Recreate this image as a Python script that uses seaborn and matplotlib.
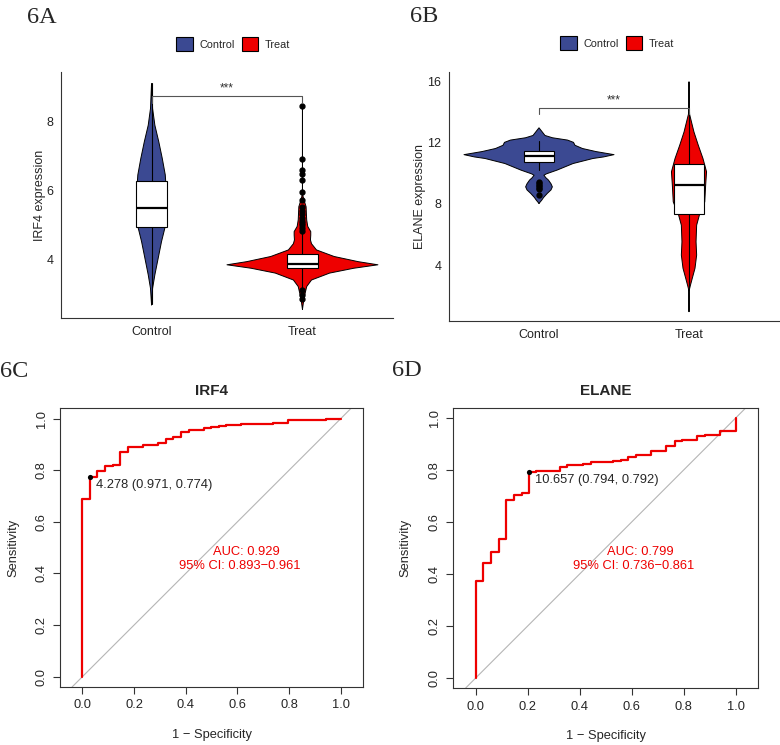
import matplotlib
matplotlib.use("Agg")
import matplotlib.pyplot as plt
from matplotlib.patches import Patch
import seaborn as sns
import numpy as np
import pandas as pd

# ---- colours (ggsci AAAS) ----
blue = "#3B4992"
red = "#EE0000"
groups = ["Control", "Treat"]

# ---- 6A: IRF4 violins (value levels, half widths in category units) ----
irf4_ctrl_y = [2.68, 3.16, 3.55, 4.03, 4.51, 4.90, 5.3, 5.7, 6.1, 6.44, 6.92, 7.40, 7.88, 8.36, 9.09]
irf4_ctrl_w = [0.0, 0.007, 0.022, 0.044, 0.066, 0.088, 0.096, 0.098, 0.096, 0.091, 0.071, 0.048, 0.022, 0.007, 0.0]
irf4_treat_y = [2.55, 2.77, 3.02, 3.21, 3.40, 3.60, 3.74, 3.84, 3.93, 4.08, 4.27, 4.45, 4.56, 4.70, 4.80,
                4.95, 5.14, 5.52, 5.76, 5.9, 8.46]
irf4_treat_w = [0.0, 0.007, 0.018, 0.028, 0.06, 0.18, 0.34, 0.5, 0.37, 0.21, 0.093, 0.06, 0.053, 0.055, 0.055,
                0.035, 0.028, 0.024, 0.007, 0.0, 0.0]
# box stats: q1, median, q3, whisker low, whisker high
irf4_ctrl_box = [4.92, 5.49, 6.26, 2.70, 9.09]
irf4_treat_box = [3.75, 3.86, 4.15, 3.15, 4.75]
irf4_treat_out = [8.45, 6.90, 6.58, 6.46, 6.29, 5.95, 5.71, 5.50, 5.40, 5.30, 5.20, 5.12, 5.05,
                  4.98, 4.90, 4.83, 3.11, 2.97, 2.85]
irf4_ctrl_out = []

# ---- 6B: ELANE violins ----
elane_ctrl_y = [8.02, 8.23, 8.4, 8.67, 8.9, 9.10, 9.3, 9.54, 9.7, 9.86, 9.95, 10.19, 10.62, 10.95, 11.05,
                11.2, 11.4, 11.6, 11.81, 12.0, 12.15, 12.3, 12.45, 12.7, 12.95]
elane_ctrl_w = [0.0, 0.018, 0.03, 0.055, 0.08, 0.089, 0.08, 0.063, 0.045, 0.033, 0.05, 0.12, 0.227, 0.36, 0.43,
                0.5, 0.38, 0.29, 0.24, 0.23, 0.19, 0.09, 0.04, 0.02, 0.0]
elane_treat_y = [0.96, 2.3, 2.59, 3.14, 3.79, 4.65, 5.52, 6.60, 7.25, 8.12, 9.21, 10.08, 10.95, 11.81,
                 12.68, 13.55, 13.98, 15.94]
elane_treat_w = [0.0, 0.0, 0.007, 0.022, 0.04, 0.051, 0.047, 0.051, 0.069, 0.105, 0.111, 0.117, 0.093,
                 0.062, 0.033, 0.011, 0.0, 0.0]
elane_ctrl_box = [10.73, 11.12, 11.44, 10.2, 12.09]
elane_treat_box = [7.32, 9.21, 10.56, 2.5, 13.98]
elane_ctrl_out = [9.43, 9.33, 9.23, 9.13, 9.03, 8.93, 8.56]
elane_treat_out = []

# ---- 6C / 6D: ROC step curves (1 - specificity, sensitivity) ----
irf4_fpr = [0, 0, 0.031, 0.058, 0.088, 0.119, 0.147, 0.177, 0.235, 0.294, 0.323, 0.352, 0.383, 0.412,
            0.470, 0.498, 0.528, 0.557, 0.615, 0.738, 0.796, 0.942, 1.0]
irf4_tpr = [0, 0.687, 0.774, 0.798, 0.815, 0.819, 0.872, 0.891, 0.899, 0.904, 0.922, 0.928, 0.948, 0.955,
            0.962, 0.968, 0.973, 0.975, 0.979, 0.983, 0.994, 1.0, 1.0]
elane_fpr = [0, 0, 0.028, 0.058, 0.088, 0.118, 0.147, 0.177, 0.206, 0.233, 0.323, 0.353, 0.413, 0.442,
             0.528, 0.558, 0.586, 0.615, 0.676, 0.733, 0.765, 0.795, 0.853, 0.881, 0.941, 1.0]
elane_tpr = [0, 0.372, 0.442, 0.483, 0.536, 0.686, 0.705, 0.710, 0.792, 0.797, 0.812, 0.821, 0.824, 0.829,
             0.833, 0.840, 0.851, 0.856, 0.872, 0.891, 0.913, 0.917, 0.929, 0.935, 0.949, 1.0]
irf4_best = (1 - 0.971, 0.774, "4.278 (0.971, 0.774)")
elane_best = (1 - 0.794, 0.792, "10.657 (0.794, 0.792)")
irf4_auc = ["AUC: 0.929", "95% CI: 0.893\u22120.961"]
elane_auc = ["AUC: 0.799", "95% CI: 0.736\u22120.861"]

sns.set_style("white")
plt.rcParams["font.family"] = ["Liberation Sans", "DejaVu Sans"]
plt.rcParams["path.simplify"] = False  # keep the zero-width violin tails

W, H = 780, 745
fig = plt.figure(figsize=(W / 100, H / 100), dpi=100)


def px_axes(left, top, right, bottom):
    return fig.add_axes([left / W, 1 - bottom / H, (right - left) / W, (bottom - top) / H])


def draw_violin(ax, pos, ys, ws, color):
    ys = np.array(ys)
    ws = np.array(ws)
    ax.fill_betweenx(ys, pos - ws, pos + ws, facecolor=color, edgecolor="none", zorder=2)
    # outline drawn as a line so the thin tails show up
    ox = np.concatenate([pos - ws, (pos + ws)[::-1]])
    oy = np.concatenate([ys, ys[::-1]])
    ax.plot(ox, oy, color="black", lw=0.7, zorder=2.1)


def draw_box(ax, pos, b, fliers):
    st = dict(q1=b[0], med=b[1], q3=b[2], whislo=b[3], whishi=b[4], fliers=fliers)
    ax.bxp([st], positions=[pos], widths=0.2, patch_artist=True, showcaps=False,
           boxprops=dict(facecolor="white", edgecolor="black", linewidth=0.8),
           medianprops=dict(color="black", linewidth=1.6),
           whiskerprops=dict(color="black", linewidth=0.8),
           flierprops=dict(marker="o", markerfacecolor="black", markeredgecolor="black",
                           markersize=3.5),
           manage_ticks=False, zorder=3)


def violin_panel(ax, parts, ylim, yticks, ylabel, bracket_y, tip, legend_xy, tag, tag_xy):
    for i, (ys, ws, box, out, col) in enumerate(parts):
        draw_violin(ax, i + 1, ys, ws, col)
        draw_box(ax, i + 1, box, out)
    ax.plot([1, 1, 2, 2], [bracket_y - tip, bracket_y, bracket_y, bracket_y - tip],
            color="#555555", lw=0.8, zorder=4)
    ax.annotate("***", (1.5, bracket_y), xytext=(0, 1), textcoords="offset points",
                ha="center", va="bottom", fontsize=8.5, color="#333333")
    ax.set_xlim(0.4, 2.6)
    ax.set_ylim(*ylim)
    ax.set_xticks([1, 2])
    ax.set_xticklabels(groups, fontsize=9, color="#222222")
    ax.set_yticks(yticks)
    ax.set_yticklabels([str(t) for t in yticks], fontsize=9, color="#222222")
    ax.tick_params(length=2.5, width=0.7, color="#333333", pad=3)
    for s in ["top", "right"]:
        ax.spines[s].set_visible(False)
    for s in ["left", "bottom"]:
        ax.spines[s].set_color("#333333")
        ax.spines[s].set_linewidth(0.8)
    ax.set_ylabel(ylabel, fontsize=9, va="center")
    handles = [Patch(facecolor=blue, edgecolor="black", lw=0.8, label="Control"),
               Patch(facecolor=red, edgecolor="black", lw=0.8, label="Treat")]
    fig.legend(handles=handles, loc="center", bbox_to_anchor=legend_xy, ncol=2, frameon=False,
               fontsize=7.8, handlelength=1.55, handleheight=1.55, handletextpad=0.55,
               columnspacing=0.65, borderpad=0)
    fig.text(tag_xy[0] / W, 1 - tag_xy[1] / H, tag, family="Liberation Serif", fontsize=17.5,
             va="baseline", ha="left")


axA = px_axes(61, 72, 393, 318)
violin_panel(axA,
             [(irf4_ctrl_y, irf4_ctrl_w, irf4_ctrl_box, irf4_ctrl_out, blue),
              (irf4_treat_y, irf4_treat_w, irf4_treat_box, irf4_treat_out, red)],
             (2.30, 9.42), [4, 6, 8], "IRF4 expression", 8.73, 0.2,
             (233 / W, 1 - 44 / H), "6A", (27, 23))
axA.yaxis.set_label_coords(-(61 - 40) / 332, 0.5)

axB = px_axes(449, 72, 779, 321)
violin_panel(axB,
             [(elane_ctrl_y, elane_ctrl_w, elane_ctrl_box, elane_ctrl_out, blue),
              (elane_treat_y, elane_treat_w, elane_treat_box, elane_treat_out, red)],
             (0.35, 16.59), [4, 8, 12, 16], "ELANE expression", 14.27, 0.4,
             (617 / W, 1 - 43 / H), "6B", (410, 22))
axB.yaxis.set_label_coords(-(449 - 420) / 330, 0.5)


def roc_panel(ax, fpr, tpr, best, auc, title, xlim, ylim, tag, tag_xy):
    ax.axline((0, 0), (1, 1), color="#b5b5b5", lw=0.8, zorder=1)
    df = pd.DataFrame({"fpr": fpr, "tpr": tpr})
    sns.lineplot(data=df, x="fpr", y="tpr", ax=ax, sort=False, estimator=None,
                 drawstyle="steps-post", color=red, lw=1.6, zorder=3)
    sns.scatterplot(x=[best[0]], y=[best[1]], ax=ax, color="black", s=14, zorder=4,
                    edgecolor="black", linewidth=0)
    ax.annotate(best[2], (best[0], best[1]), xytext=(4.5, -6), textcoords="offset points",
                ha="left", va="center", fontsize=9.3)
    ax.text(0.634, 0.483, auc[0], color=red, ha="center", va="center", fontsize=9.3)
    ax.text(0.608, 0.430, auc[1], color=red, ha="center", va="center", fontsize=9.3)
    ax.set_xlim(*xlim)
    ax.set_ylim(*ylim)
    ticks = [0, 0.2, 0.4, 0.6, 0.8, 1.0]
    labels = ["%.1f" % t for t in ticks]
    ax.set_xticks(ticks)
    ax.set_xticklabels(labels, fontsize=9.3)
    ax.set_yticks(ticks)
    ax.set_yticklabels(labels, fontsize=9.3, rotation=90, va="center")
    ax.tick_params(direction="out", length=5, width=0.8, color="#333333", pad=4,
                   bottom=True, left=True)
    for s in ax.spines.values():
        s.set_color("#333333")
        s.set_linewidth(0.8)
    ax.set_xlabel("1 \u2212 Specificity", fontsize=9.3, va="center")
    ax.set_ylabel("Sensitivity", fontsize=9.3, va="center")
    ax.xaxis.set_label_coords(0.5, -48 / 279)
    ax.yaxis.set_label_coords(-47 / 303, 0.5)
    ax.text(0.5, 1 + 16.6 / 279, title, transform=ax.transAxes, ha="center", va="center",
            fontsize=11, fontweight="bold")
    fig.text(tag_xy[0] / W, 1 - tag_xy[1] / H, tag, family="Liberation Serif", fontsize=17.5,
             va="baseline", ha="left")


axC = px_axes(60, 408, 363, 687)
roc_panel(axC, irf4_fpr, irf4_tpr, irf4_best, irf4_auc, "IRF4",
          (-0.0867, 1.086), (-0.040, 1.041), "6C", (0, 377))
axD = px_axes(453, 408, 758, 688)
roc_panel(axD, elane_fpr, elane_tpr, elane_best, elane_auc, "ELANE",
          (-0.0873, 1.086), (-0.0385, 1.0385), "6D", (392, 376))

fig.savefig("out.png", dpi=100)
